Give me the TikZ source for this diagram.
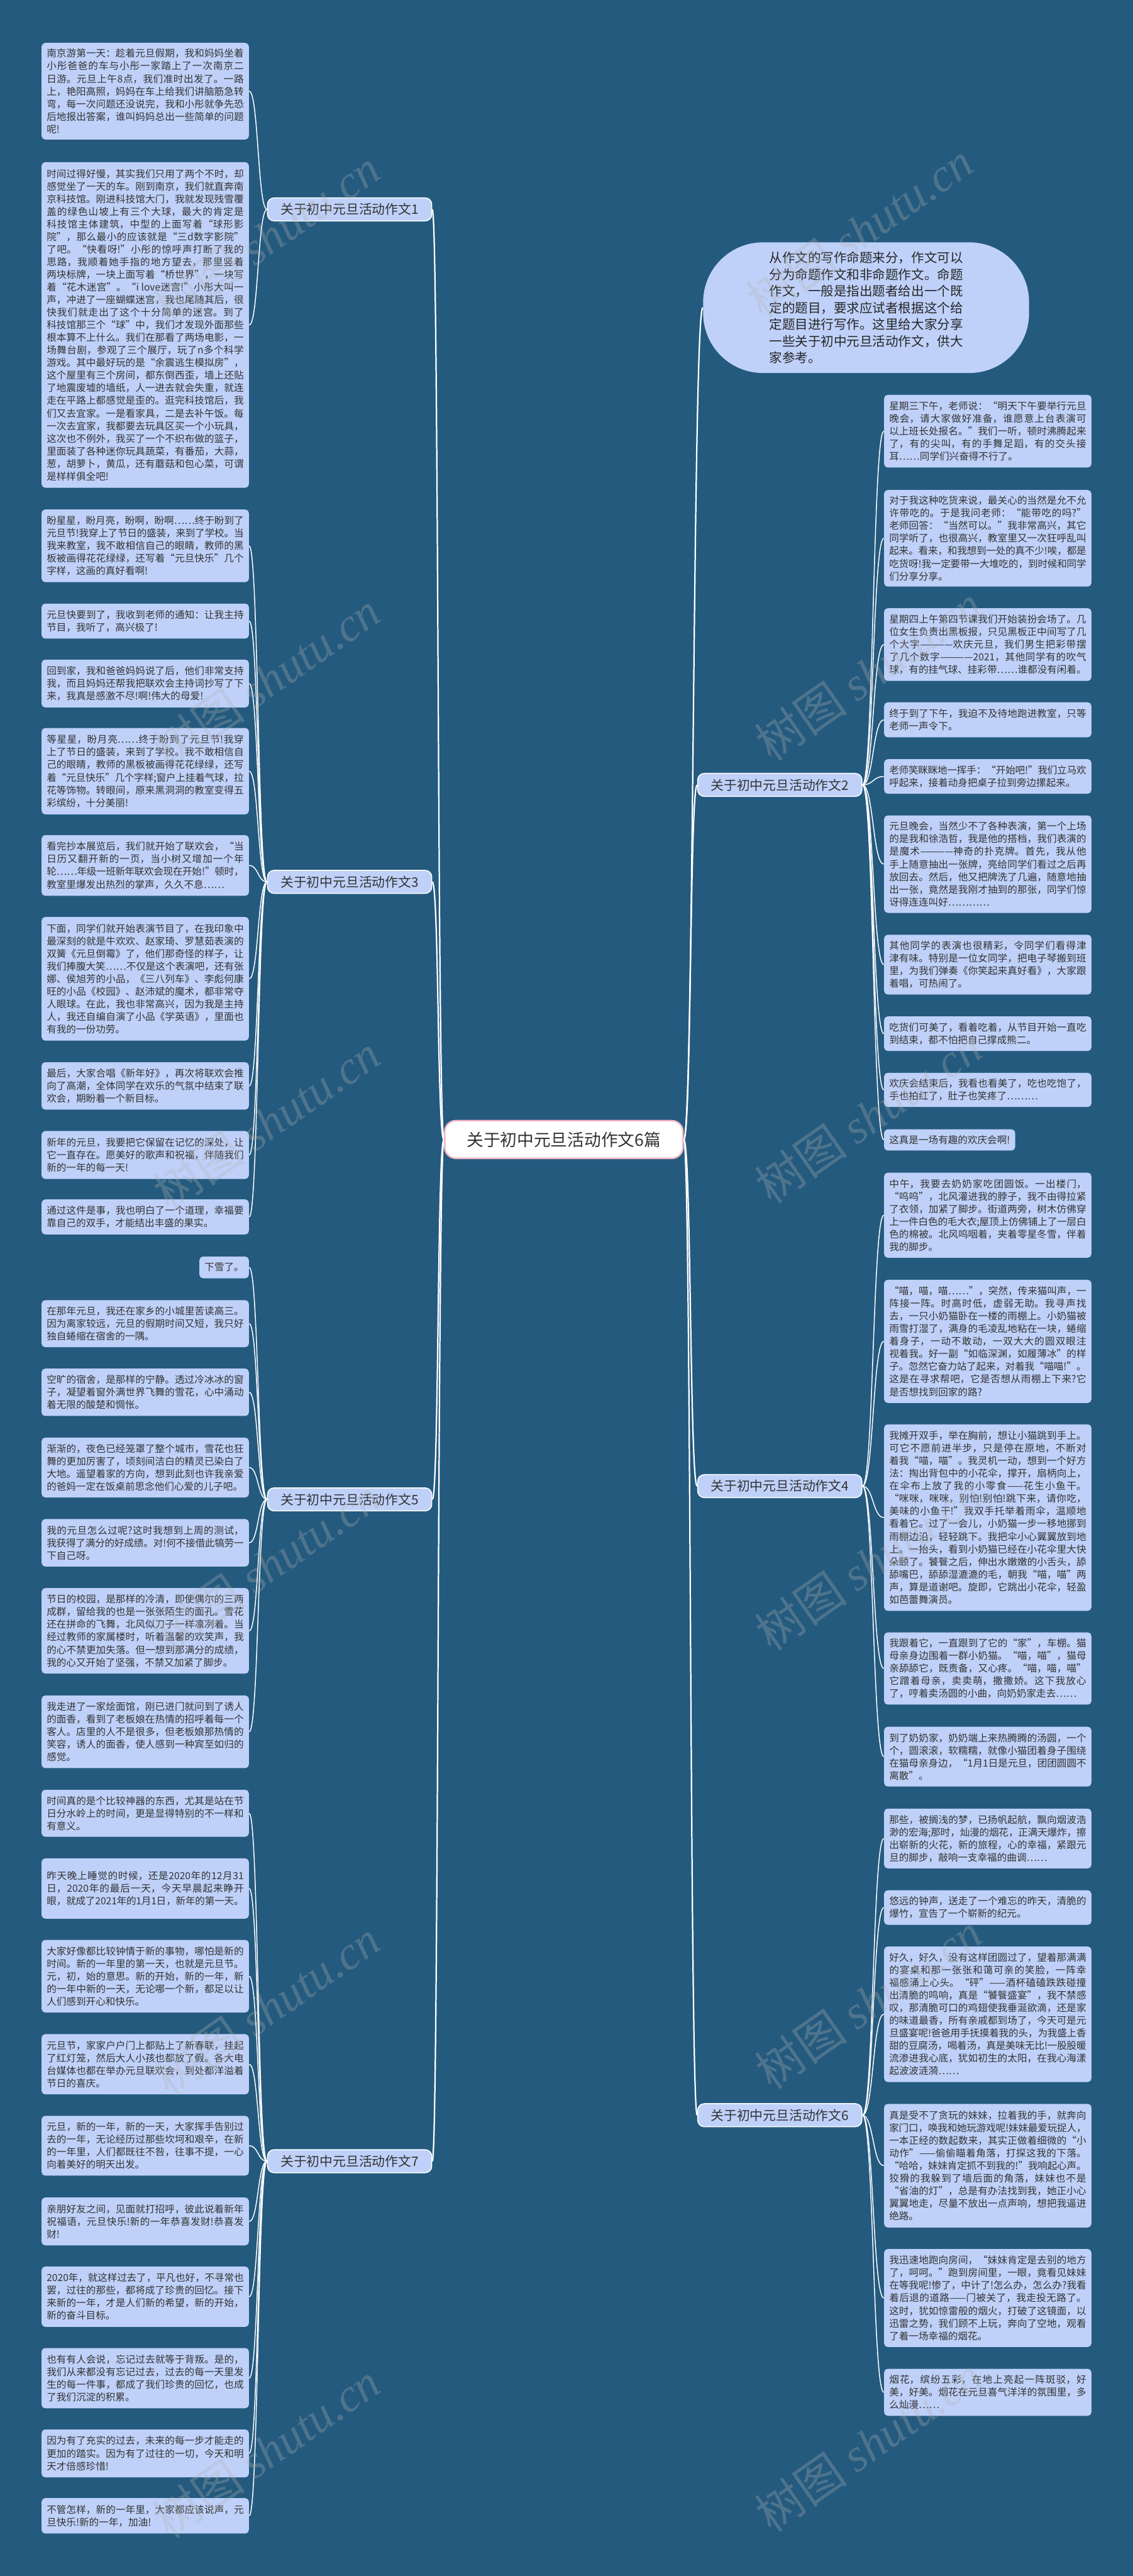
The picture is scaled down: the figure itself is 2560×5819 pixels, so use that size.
\documentclass[tikz,border=0pt]{standalone}
\usepackage{fontspec}
\setmainfont{Noto Sans CJK SC}
\newfontfamily\wmlatin{Liberation Serif}
\usepackage{xcolor}
\usepackage{tikz}
\usetikzlibrary{backgrounds}
\XeTeXlinebreaklocale "zh"
\XeTeXlinebreakskip = 0pt plus 1pt minus 0.3pt
\definecolor{canvasblue}{HTML}{245A7E}
\definecolor{leafblue}{HTML}{BFD1F9}
\definecolor{leafink}{HTML}{333333}
\definecolor{rootpink}{HTML}{F2B6C6}
\newcommand\leaffont{\fontsize{6.3pt}{8.1pt}\selectfont}
\tikzset{
  leaf tag/.style   = {fill=leafblue, text=leafink, rounded corners=0.08cm,
                       inner xsep=0.115cm, inner ysep=0.08cm, font=\leaffont},
  leaf/.style       = {leaf tag, text width=4.45cm, align=justify},
  left leaf/.style  = {leaf, anchor=east},
  right leaf/.style = {leaf, anchor=west},
  branch/.style     = {fill=leafblue, draw=white, line width=0.6pt, rounded corners=0.15cm,
                       text=leafink, font=\fontsize{8.4pt}{10pt}\selectfont,
                       minimum width=3.71cm, minimum height=0.52cm, inner sep=0pt},
  root/.style       = {fill=white, draw=rootpink, line width=1pt, rounded corners=0.25cm,
                       text=leafink, font=\fontsize{10.8pt}{13pt}\selectfont,
                       minimum width=5.38cm, minimum height=0.85cm, inner sep=0pt},
  intro/.style      = {fill=leafblue, rounded corners=1.35cm, minimum width=7.36cm,
                       minimum height=2.95cm, text=black!85, align=left,
                       font=\fontsize{8.3pt}{10.7pt}\selectfont},
  trunk/.style      = {white, line width=0.9pt},
  twig/.style       = {white, line width=0.6pt},
  watermark/.style  = {text=gray!60, opacity=0.3, rotate=35, anchor=west,
                       font=\fontsize{30pt}{32pt}\selectfont, inner sep=0pt},
}

\begin{document}
\begin{tikzpicture}[x=0.01cm, y=-0.01cm]
  \useasboundingbox (0,0) rectangle (2560,5819);

  \node[root] (root) at (1274,2574) {关于初中元旦活动作文6篇};
  \node[intro] (intro) at (1957,695) {从作文的写作命题来分，作文可以\\分为命题作文和非命题作文。命题\\作文，一般是指出题者给出一个既\\定的题目，要求应试者根据这个给\\定题目进行写作。这里给大家分享\\一些关于初中元旦活动作文，供大\\家参考。};

  \node[branch] (e1) at (790,473) {关于初中元旦活动作文1};
  \node[branch] (e3) at (790,1992) {关于初中元旦活动作文3};
  \node[branch] (e5) at (790,3387) {关于初中元旦活动作文5};
  \node[branch] (e7) at (790,4882) {关于初中元旦活动作文7};
  \node[branch] (e2) at (1762,1773) {关于初中元旦活动作文2};
  \node[branch] (e4) at (1762,3357) {关于初中元旦活动作文4};
  \node[branch] (e6) at (1762,4778) {关于初中元旦活动作文6};

  % essay 1
  \node[left leaf, minimum height=2.18cm] (a1) at (563,206) {南京游第一天：趁着元旦假期，我和妈妈坐着小彤爸爸的车与小彤一家踏上了一次南京二日游。元旦上午8点，我们准时出发了。一路上，艳阳高照，妈妈在车上给我们讲脑筋急转弯，每一次问题还没说完，我和小彤就争先恐后地报出答案，谁叫妈妈总出一些简单的问题呢!};
  \node[left leaf, minimum height=7.35cm] (a2) at (563,734) {时间过得好慢，其实我们只用了两个不时，却感觉坐了一天的车。刚到南京，我们就直奔南京科技馆。刚进科技馆大门，我就发现残雪覆盖的绿色山坡上有三个大球，最大的肯定是科技馆主体建筑，中型的上面写着“球形影院”，那么最小的应该就是“三d数字影院”了吧。“快看呀!”小彤的惊呼声打断了我的思路，我顺着她手指的地方望去，那里竖着两块标牌，一块上面写着“桥世界”，一块写着“花木迷宫”。“i love迷宫!”小彤大叫一声，冲进了一座蝴蝶迷宫，我也尾随其后，很快我们就走出了这个十分简单的迷宫。到了科技馆那三个“球”中，我们才发现外面那些根本算不上什么。我们在那看了两场电影，一场舞台剧，参观了三个展厅，玩了n多个科学游戏。其中最好玩的是“余震逃生模拟房”，这个屋里有三个房间，都东倒西歪，墙上还贴了地震废墟的墙纸，人一进去就会失重，就连走在平路上都感觉是歪的。逛完科技馆后，我们又去宜家。一是看家具，二是去补午饭。每一次去宜家，我都要去玩具区买一个小玩具，这次也不例外，我买了一个不织布做的篮子，里面装了各种迷你玩具蔬菜，有番茄，大蒜，葱，胡萝卜，黄瓜，还有蘑菇和包心菜，可谓是样样俱全吧!};

  % essay 3
  \node[left leaf, minimum height=1.64cm] (a3) at (563,1233) {盼星星，盼月亮，盼啊，盼啊……终于盼到了元旦节!我穿上了节日的盛装，来到了学校。当我来教室，我不敢相信自己的眼睛，教师的黑板被画得花花绿绿，还写着“元旦快乐”几个字样，这画的真好看啊!};
  \node[left leaf, minimum height=0.79cm] (a4) at (563,1403) {元旦快要到了，我收到老师的通知：让我主持节目，我听了，高兴极了!};
  \node[left leaf, minimum height=1.08cm] (a5) at (563,1544) {回到家，我和爸爸妈妈说了后，他们非常支持我，而且妈妈还帮我把联欢会主持词抄写了下来，我真是感激不尽!啊!伟大的母爱!};
  \node[left leaf, minimum height=1.95cm] (a6) at (563,1742) {等星星，盼月亮……终于盼到了元旦节!我穿上了节日的盛装，来到了学校。我不敢相信自己的眼睛，教师的黑板被画得花花绿绿，还写着“元旦快乐”几个字样;窗户上挂着气球，拉花等饰物。转眼间，原来黑洞洞的教室变得五彩缤纷，十分美丽!};
  \node[left leaf, minimum height=1.37cm] (a7) at (563,1955) {看完抄本展览后，我们就开始了联欢会，“当日历又翻开新的一页，当小树又增加一个年轮……年级一班新年联欢会现在开始!”顿时，教室里爆发出热烈的掌声，久久不息……};
  \node[left leaf, minimum height=2.79cm] (a8) at (563,2211) {下面，同学们就开始表演节目了，在我印象中最深刻的就是牛欢欢、赵家琦、罗慧茹表演的双簧《元旦倒霉》了，他们那奇怪的样子，让我们捧腹大笑……不仅是这个表演吧，还有张娜、侯旭芳的小品，《三八列车》、李彪何康旺的小品《校园》、赵沛斌的魔术，都非常夺人眼球。在此，我也非常高兴，因为我是主持人，我还自编自演了小品《学英语》，里面也有我的一份功劳。};
  \node[left leaf, minimum height=1.07cm] (a9) at (563,2453) {最后，大家合唱《新年好》，再次将联欢会推向了高潮，全体同学在欢乐的气氛中结束了联欢会，期盼着一个新目标。};
  \node[left leaf, minimum height=1.08cm] (a10) at (563,2609) {新年的元旦，我要把它保留在记忆的深处，让它一直存在。愿美好的歌声和祝福，伴随我们新的一年的每一天!};
  \node[left leaf, minimum height=0.79cm] (a11) at (563,2749) {通过这件是事，我也明白了一个道理，幸福要靠自己的双手，才能结出丰盛的果实。};

  % essay 5
  \node[leaf tag, anchor=east, minimum height=0.49cm] (a12) at (563,2863) {下雪了。};
  \node[left leaf, minimum height=1.06cm] (a13) at (563,2990) {在那年元旦，我还在家乡的小城里苦读高三。因为离家较远，元旦的假期时间又短，我只好独自蜷缩在宿舍的一隅。};
  \node[left leaf, minimum height=1.07cm] (a14) at (563,3145) {空旷的宿舍，是那样的宁静。透过冷冰冰的窗子，凝望着窗外满世界飞舞的雪花，心中涌动着无限的酸楚和惆怅。};
  \node[left leaf, minimum height=1.35cm] (a15) at (563,3315) {渐渐的，夜色已经笼罩了整个城市，雪花也狂舞的更加厉害了，顷刻间洁白的精灵已染白了大地。遥望着家的方向，想到此刻也许我亲爱的爸妈一定在饭桌前思念他们心爱的儿子吧。};
  \node[left leaf, minimum height=1.07cm] (a16) at (563,3485) {我的元旦怎么过呢?这时我想到上周的测试，我获得了满分的好成绩。对!何不接借此犒劳一下自己呀。};
  \node[left leaf, minimum height=1.93cm] (a17) at (563,3684) {节日的校园，是那样的冷清，即使偶尔的三两成群，留给我的也是一张张陌生的面孔。雪花还在拼命的飞舞，北风似刀子一样凛冽着。当经过教师的家属楼时，听着温馨的欢笑声，我的心不禁更加失落。但一想到那满分的成绩，我的心又开始了坚强，不禁又加紧了脚步。};
  \node[left leaf, minimum height=1.64cm] (a18) at (563,3912) {我走进了一家烩面馆，刚已进门就问到了诱人的面香，看到了老板娘在热情的招呼着每一个客人。店里的人不是很多，但老板娘那热情的笑容，诱人的面香，使人感到一种宾至如归的感觉。};

  % essay 7
  \node[left leaf, minimum height=1.06cm] (a19) at (563,4096) {时间真的是个比较神器的东西，尤其是站在节日分水岭上的时间，更是显得特别的不一样和有意义。};
  \node[left leaf, minimum height=1.36cm] (a20) at (563,4266) {昨天晚上睡觉的时候，还是2020年的12月31日，2020年的最后一天，今天早晨起来睁开眼，就成了2021年的1月1日，新年的第一天。};
  \node[left leaf, minimum height=1.64cm] (a21) at (563,4464) {大家好像都比较钟情于新的事物，哪怕是新的时间。新的一年里的第一天，也就是元旦节。元，初，始的意思。新的开始，新的一年，新的一年中新的一天，无论哪一个新，都足以让人们感到开心和快乐。};
  \node[left leaf, minimum height=1.36cm] (a22) at (563,4663) {元旦节，家家户户门上都贴上了新春联，挂起了红灯笼，然后大人小孩也都放了假。各大电台媒体也都在举办元旦联欢会，到处都洋溢着节日的喜庆。};
  \node[left leaf, minimum height=1.35cm] (a23) at (563,4847) {元旦，新的一年，新的一天，大家挥手告别过去的一年，无论经历过那些坎坷和艰辛，在新的一年里，人们都既往不咎，往事不提，一心向着美好的明天出发。};
  \node[left leaf, minimum height=1.08cm] (a24) at (563,5018) {亲朋好友之间，见面就打招呼，彼此说着新年祝福语，元旦快乐!新的一年恭喜发财!恭喜发财!};
  \node[left leaf, minimum height=1.36cm] (a25) at (563,5188) {2020年，就这样过去了，平凡也好，不寻常也罢，过往的那些，都将成了珍贵的回忆。接下来新的一年，才是人们新的希望，新的开始，新的奋斗目标。};
  \node[left leaf, minimum height=1.36cm] (a26) at (563,5372) {也有有人会说，忘记过去就等于背叛。是的，我们从来都没有忘记过去，过去的每一天里发生的每一件事，都成了我们珍贵的回忆，也成了我们沉淀的积累。};
  \node[left leaf, minimum height=1.08cm] (a27) at (563,5542) {因为有了充实的过去，未来的每一步才能走的更加的踏实。因为有了过往的一切，今天和明天才倍感珍惜!};
  \node[left leaf, minimum height=0.80cm] (a28) at (563,5683) {不管怎样，新的一年里，大家都应该说声，元旦快乐!新的一年，加油!};

  % essay 2
  \node[right leaf, minimum height=1.64cm] (b1) at (1997,974) {星期三下午，老师说：“明天下午要举行元旦晚会，请大家做好准备，谁愿意上台表演可以上班长处报名。”我们一听，顿时沸腾起来了，有的尖叫，有的手舞足蹈，有的交头接耳……同学们兴奋得不行了。};
  \node[right leaf, minimum height=2.18cm] (b2) at (1997,1216) {对于我这种吃货来说，最关心的当然是允不允许带吃的。于是我问老师：“能带吃的吗?”老师回答：“当然可以。”我非常高兴，其它同学听了，也很高兴，教室里又一次狂呼乱叫起来。看来，和我想到一处的真不少!唉，都是吃货呀!我一定要带一大堆吃的，到时候和同学们分享分享。};
  \node[right leaf, minimum height=1.64cm] (b3) at (1997,1456) {星期四上午第四节课我们开始装扮会场了。几位女生负责出黑板报，只见黑板正中间写了几个大字————欢庆元旦，我们男生把彩带摆了几个数字————2021，其他同学有的吹气球，有的挂气球、挂彩带……谁都没有闲着。};
  \node[right leaf, minimum height=0.79cm] (b4) at (1997,1626) {终于到了下午，我迫不及待地跑进教室，只等老师一声令下。};
  \node[right leaf, minimum height=0.78cm] (b5) at (1997,1754) {老师笑眯眯地一挥手：“开始吧!”我们立马欢呼起来，接着动身把桌子拉到旁边摞起来。};
  \node[right leaf, minimum height=2.20cm] (b6) at (1997,1952) {元旦晚会，当然少不了各种表演，第一个上场的是我和徐浩哲，我是他的搭档，我们表演的是魔术————神奇的扑克牌。首先，我从他手上随意抽出一张牌，亮给同学们看过之后再放回去。然后，他又把牌洗了几遍，随意地抽出一张，竟然是我刚才抽到的那张，同学们惊讶得连连叫好…………};
  \node[right leaf, minimum height=1.35cm] (b7) at (1997,2179) {其他同学的表演也很精彩，令同学们看得津津有味。特别是一位女同学，把电子琴搬到班里，为我们弹奏《你笑起来真好看》，大家跟着唱，可热闹了。};
  \node[right leaf, minimum height=0.78cm] (b8) at (1997,2335) {吃货们可美了，看着吃着，从节目开始一直吃到结束，都不怕把自己撑成熊二。};
  \node[right leaf, minimum height=0.77cm] (b9) at (1997,2462) {欢庆会结束后，我看也看美了，吃也吃饱了，手也拍红了，肚子也笑疼了………};
  \node[leaf tag, anchor=west, minimum height=0.48cm] (b10) at (1997,2575) {这真是一场有趣的欢庆会啊!};

  % essay 4
  \node[right leaf, minimum height=1.92cm] (b11) at (1997,2745) {中午，我要去奶奶家吃团圆饭。一出楼门，“呜呜”，北风灌进我的脖子，我不由得拉紧了衣领，加紧了脚步。街道两旁，树木仿佛穿上一件白色的毛大衣;屋顶上仿佛铺上了一层白色的棉被。北风呜咽着，夹着零星冬雪，伴着我的脚步。};
  \node[right leaf, minimum height=2.78cm] (b12) at (1997,3030) {“喵，喵，喵……”，突然，传来猫叫声，一阵接一阵。时高时低，虚弱无助。我寻声找去，一只小奶猫卧在一楼的雨棚上。小奶猫被雨雪打湿了，满身的毛凌乱地粘在一块，蜷缩着身子，一动不敢动，一双大大的圆双眼注视着我。好一副“如临深渊，如履薄冰”的样子。忽然它奋力站了起来，对着我“喵喵!”。这是在寻求帮吧，它是否想从雨棚上下来?它是否想找到回家的路?};
  \node[right leaf, minimum height=4.21cm] (b13) at (1997,3428) {我摊开双手，举在胸前，想让小猫跳到手上。可它不愿前进半步，只是停在原地，不断对着我“喵，喵”。我灵机一动，想到一个好方法：掏出背包中的小花伞，撑开，扇柄向上，在伞布上放了我的小零食——花生小鱼干。“咪咪，咪咪，别怕!别怕!跳下来，请你吃，美味的小鱼干!”我双手托举着雨伞，温顺地看着它。过了一会儿，小奶猫一步一移地挪到雨棚边沿，轻轻跳下。我把伞小心翼翼放到地上。一抬头，看到小奶猫已经在小花伞里大快朵颐了。饕餮之后，伸出水嫩嫩的小舌头，舔舔嘴巴，舔舔湿漉漉的毛，朝我“喵，喵”两声，算是道谢吧。旋即，它跳出小花伞，轻盈如芭蕾舞演员。};
  \node[right leaf, minimum height=1.63cm] (b14) at (1997,3769) {我跟着它，一直跟到了它的“家”，车棚。猫母亲身边围着一群小奶猫。“喵，喵”，猫母亲舔舔它，既责备，又心疼。“喵，喵，喵”它蹭着母亲，卖卖萌，撒撒娇。这下我放心了，哼着卖汤圆的小曲，向奶奶家走去……};
  \node[right leaf, minimum height=1.35cm] (b15) at (1997,3968) {到了奶奶家，奶奶端上来热腾腾的汤圆，一个个，圆滚滚，软糯糯，就像小猫团着身子围绕在猫母亲身边，“1月1日是元旦，团团圆圆不离散”。};

  % essay 6
  \node[right leaf, minimum height=1.35cm] (b16) at (1997,4153) {那些，被搁浅的梦，已扬帆起航，飘向烟波浩渺的宏海;那时，灿漫的烟花，正满天爆炸，擦出崭新的火花，新的旅程，心的幸福，紧跟元旦的脚步，敲响一支幸福的曲调……};
  \node[right leaf, minimum height=0.78cm] (b17) at (1997,4309) {悠远的钟声，送走了一个难忘的昨天，清脆的爆竹，宣告了一个崭新的纪元。};
  \node[right leaf, minimum height=3.06cm] (b18) at (1997,4550) {好久，好久，没有这样团圆过了，望着那满满的宴桌和那一张张和蔼可亲的笑脸，一阵幸福感涌上心头。“砰”——酒杯磕磕跌跌碰撞出清脆的鸣响，真是“饕餮盛宴”，我不禁感叹，那清脆可口的鸡翅使我垂涎欲滴，还是家的味道最香，所有亲戚都到场了，今天可是元旦盛宴呢!爸爸用手抚摸着我的头，为我盛上香甜的豆腐汤，喝着汤，真是美味无比!一股股暖流渗进我心底，犹如初生的太阳，在我心海漾起波波涟漪……};
  \node[right leaf, minimum height=2.79cm] (b19) at (1997,4892) {真是受不了贪玩的妹妹，拉着我的手，就奔向家门口，唤我和她玩游戏呢!妹妹最爱玩捉人，一本正经的数起数来，其实正做着细微的“小动作”——偷偷瞄着角落，打探这我的下落。“哈哈，妹妹肯定抓不到我的!”我响起心声。狡猾的我躲到了墙后面的角落，妹妹也不是“省油的灯”，总是有办法找到我，她正小心翼翼地走，尽量不放出一点声响，想把我逼进绝路。};
  \node[right leaf, minimum height=2.21cm] (b20) at (1997,5191) {我迅速地跑向房间，“妹妹肯定是去别的地方了，呵呵。”跑到房间里，一眼，竟看见妹妹在等我呢!惨了，中计了!怎么办，怎么办?我看着后退的道路——门被关了，我走投无路了。这时，犹如惊雷般的烟火，打破了这镜面，以迅雷之势，我们顾不上玩，奔向了空地，观看了着一场幸福的烟花。};
  \node[right leaf, minimum height=1.06cm] (b21) at (1997,5404) {烟花，缤纷五彩，在地上亮起一阵斑驳，好美，好美。烟花在元旦喜气洋洋的氛围里，多么灿漫……};

  \begin{scope}[on background layer]
    \fill[canvasblue] (0,0) rectangle (2560,5819);
    \draw[trunk] (root.west) .. controls +(-15,0) and +(15,0) .. (e1.east);
    \draw[trunk] (root.west) .. controls +(-15,0) and +(15,0) .. (e3.east);
    \draw[trunk] (root.west) .. controls +(-15,0) and +(15,0) .. (e5.east);
    \draw[trunk] (root.west) .. controls +(-15,0) and +(15,0) .. (e7.east);
    \draw[trunk] (root.east) .. controls +(17,0) and +(-17,0) .. (e2.west);
    \draw[trunk] (root.east) .. controls +(17,0) and +(-17,0) .. (e4.west);
    \draw[trunk] (root.east) .. controls +(17,0) and +(-17,0) .. (e6.west);
    \draw[trunk] (root.east) .. controls +(23,0) and +(-23,0) .. (intro.west);
    \draw[twig] (e1.west) .. controls +(-21,0) and +(21,0) .. (a1.east);
    \draw[twig] (e1.west) .. controls +(-21,0) and +(21,0) .. (a2.east);
    \draw[twig] (e3.west) .. controls +(-21,0) and +(21,0) .. (a3.east);
    \draw[twig] (e3.west) .. controls +(-21,0) and +(21,0) .. (a4.east);
    \draw[twig] (e3.west) .. controls +(-21,0) and +(21,0) .. (a5.east);
    \draw[twig] (e3.west) .. controls +(-21,0) and +(21,0) .. (a6.east);
    \draw[twig] (e3.west) .. controls +(-21,0) and +(21,0) .. (a7.east);
    \draw[twig] (e3.west) .. controls +(-21,0) and +(21,0) .. (a8.east);
    \draw[twig] (e3.west) .. controls +(-21,0) and +(21,0) .. (a9.east);
    \draw[twig] (e3.west) .. controls +(-21,0) and +(21,0) .. (a10.east);
    \draw[twig] (e3.west) .. controls +(-21,0) and +(21,0) .. (a11.east);
    \draw[twig] (e5.west) .. controls +(-21,0) and +(21,0) .. (a12.east);
    \draw[twig] (e5.west) .. controls +(-21,0) and +(21,0) .. (a13.east);
    \draw[twig] (e5.west) .. controls +(-21,0) and +(21,0) .. (a14.east);
    \draw[twig] (e5.west) .. controls +(-21,0) and +(21,0) .. (a15.east);
    \draw[twig] (e5.west) .. controls +(-21,0) and +(21,0) .. (a16.east);
    \draw[twig] (e5.west) .. controls +(-21,0) and +(21,0) .. (a17.east);
    \draw[twig] (e5.west) .. controls +(-21,0) and +(21,0) .. (a18.east);
    \draw[twig] (e7.west) .. controls +(-21,0) and +(21,0) .. (a19.east);
    \draw[twig] (e7.west) .. controls +(-21,0) and +(21,0) .. (a20.east);
    \draw[twig] (e7.west) .. controls +(-21,0) and +(21,0) .. (a21.east);
    \draw[twig] (e7.west) .. controls +(-21,0) and +(21,0) .. (a22.east);
    \draw[twig] (e7.west) .. controls +(-21,0) and +(21,0) .. (a23.east);
    \draw[twig] (e7.west) .. controls +(-21,0) and +(21,0) .. (a24.east);
    \draw[twig] (e7.west) .. controls +(-21,0) and +(21,0) .. (a25.east);
    \draw[twig] (e7.west) .. controls +(-21,0) and +(21,0) .. (a26.east);
    \draw[twig] (e7.west) .. controls +(-21,0) and +(21,0) .. (a27.east);
    \draw[twig] (e7.west) .. controls +(-21,0) and +(21,0) .. (a28.east);
    \draw[twig] (e2.east) .. controls +(25,0) and +(-25,0) .. (b1.west);
    \draw[twig] (e2.east) .. controls +(25,0) and +(-25,0) .. (b2.west);
    \draw[twig] (e2.east) .. controls +(25,0) and +(-25,0) .. (b3.west);
    \draw[twig] (e2.east) .. controls +(25,0) and +(-25,0) .. (b4.west);
    \draw[twig] (e2.east) .. controls +(25,0) and +(-25,0) .. (b5.west);
    \draw[twig] (e2.east) .. controls +(25,0) and +(-25,0) .. (b6.west);
    \draw[twig] (e2.east) .. controls +(25,0) and +(-25,0) .. (b7.west);
    \draw[twig] (e2.east) .. controls +(25,0) and +(-25,0) .. (b8.west);
    \draw[twig] (e2.east) .. controls +(25,0) and +(-25,0) .. (b9.west);
    \draw[twig] (e2.east) .. controls +(25,0) and +(-25,0) .. (b10.west);
    \draw[twig] (e4.east) .. controls +(25,0) and +(-25,0) .. (b11.west);
    \draw[twig] (e4.east) .. controls +(25,0) and +(-25,0) .. (b12.west);
    \draw[twig] (e4.east) .. controls +(25,0) and +(-25,0) .. (b13.west);
    \draw[twig] (e4.east) .. controls +(25,0) and +(-25,0) .. (b14.west);
    \draw[twig] (e4.east) .. controls +(25,0) and +(-25,0) .. (b15.west);
    \draw[twig] (e6.east) .. controls +(25,0) and +(-25,0) .. (b16.west);
    \draw[twig] (e6.east) .. controls +(25,0) and +(-25,0) .. (b17.west);
    \draw[twig] (e6.east) .. controls +(25,0) and +(-25,0) .. (b18.west);
    \draw[twig] (e6.east) .. controls +(25,0) and +(-25,0) .. (b19.west);
    \draw[twig] (e6.east) .. controls +(25,0) and +(-25,0) .. (b20.west);
    \draw[twig] (e6.east) .. controls +(25,0) and +(-25,0) .. (b21.west);
  \end{scope}

  % site watermark
  \node[watermark] (wm1) at (360,705) {树图 {\wmlatin\itshape shutu.cn}};
  \node[watermark] (wm2) at (360,1705) {树图 {\wmlatin\itshape shutu.cn}};
  \node[watermark] (wm3) at (360,2705) {树图 {\wmlatin\itshape shutu.cn}};
  \node[watermark] (wm4) at (360,3705) {树图 {\wmlatin\itshape shutu.cn}};
  \node[watermark] (wm5) at (360,4705) {树图 {\wmlatin\itshape shutu.cn}};
  \node[watermark] (wm6) at (360,5705) {树图 {\wmlatin\itshape shutu.cn}};
  \node[watermark] (wm7) at (1700,690) {树图 {\wmlatin\itshape shutu.cn}};
  \node[watermark] (wm8) at (1720,1690) {树图 {\wmlatin\itshape shutu.cn}};
  \node[watermark] (wm9) at (1720,2690) {树图 {\wmlatin\itshape shutu.cn}};
  \node[watermark] (wm10) at (1720,3700) {树图 {\wmlatin\itshape shutu.cn}};
  \node[watermark] (wm11) at (1720,4690) {树图 {\wmlatin\itshape shutu.cn}};
  \node[watermark] (wm12) at (1720,5690) {树图 {\wmlatin\itshape shutu.cn}};
\end{tikzpicture}
\end{document}
